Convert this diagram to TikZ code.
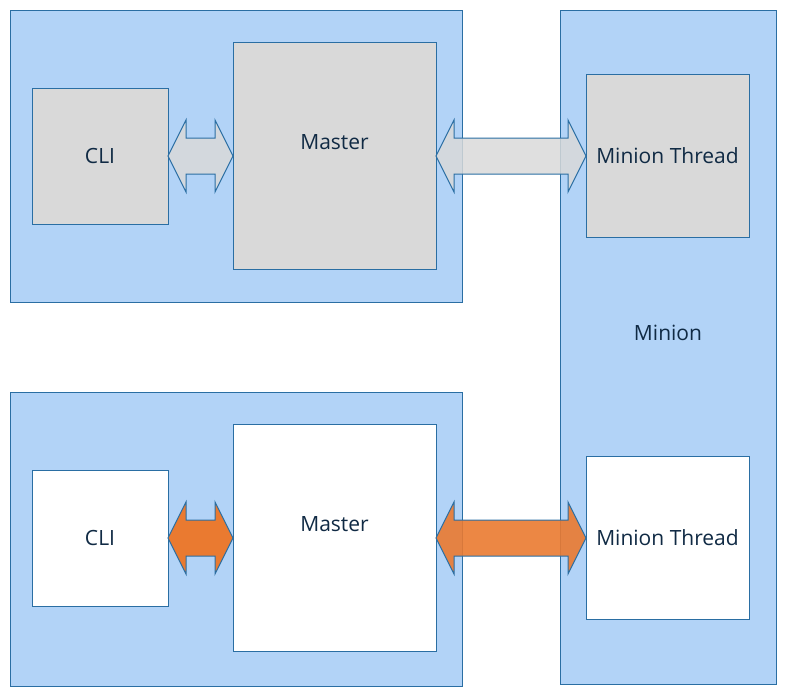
\documentclass[tikz,border=0pt]{standalone}
\usepackage{fontspec}
\setmainfont{Open Sans}
\usepackage{tikz}
\usetikzlibrary{positioning, calc}

\definecolor{grpblue}{RGB}{178,211,247}
\definecolor{edgeblue}{RGB}{42,110,163}
\definecolor{boxgrey}{RGB}{217,217,217}
\definecolor{textnavy}{RGB}{16,42,68}
\definecolor{arrorange}{RGB}{234,122,48}

% double block arrow between two tips on one level
\newcommand{\dblarrow}[3]{%
  \draw[#1] let \p1=(#2), \p2=(#3) in
    (\p1) -- (\x1+18pt,\y1+36pt) -- (\x1+18pt,\y1+18pt) -- (\x2-18pt,\y1+18pt)
    -- (\x2-18pt,\y1+36pt) -- (\x2,\y1) -- (\x2-18pt,\y1-36pt) -- (\x2-18pt,\y1-18pt)
    -- (\x1+18pt,\y1-18pt) -- (\x1+18pt,\y1-36pt) -- cycle;}

\begin{document}
\begin{tikzpicture}[
      x=1pt, y=-1pt,
      font=\fontsize{21}{25}\selectfont,
      text=textnavy,
      box/.style={
        rectangle,
        draw=edgeblue,
        line width=1pt,
        outer sep=0pt,
        inner sep=0pt,
      },
      greybox/.style={box, fill=boxgrey},
      whitebox/.style={box, fill=white},
      group/.style={box, fill=grpblue},
      greyarrow/.style={draw=edgeblue, line width=1pt, fill=boxgrey, fill opacity=0.85},
      orangearrow/.style={draw=edgeblue, line width=1pt, fill=arrorange, fill opacity=0.9},
    ]
      % declare background layer
      \pgfdeclarelayer{background}
      \pgfsetlayers{background,main}

      \useasboundingbox (0,0) rectangle (787,696);

      % upper row
      \node[greybox, minimum size=136] (cli1) at (100,156) {CLI};
      \node[greybox, minimum width=203, minimum height=227, right=65pt of cli1,
        label={[yshift=13.5pt]center:Master}] (master1) {};
      \node[greybox, minimum size=163, right=150pt of master1] (thread1) {Minion Thread};

      % lower row
      \node[whitebox, minimum size=136] (cli2) at (100,538) {CLI};
      \node[whitebox, minimum width=203, minimum height=227, right=65pt of cli2,
        label={[yshift=14pt]center:Master}] (master2) {};
      \node[whitebox, minimum size=163, right=150pt of master2] (thread2) {Minion Thread};

      % arrows between blocks
      \dblarrow{greyarrow}{cli1.east}{master1.west}
      \dblarrow{greyarrow}{master1.east}{thread1.west}
      \dblarrow{orangearrow, fill opacity=1}{cli2.east}{master2.west}
      \dblarrow{orangearrow}{master2.east}{thread2.west}

      % containers in background
      \begin{pgfonlayer}{background}
        \node[group, minimum width=452, minimum height=292] (upper) at (236,156) {};
        \node[group, minimum width=452, minimum height=294] (lower) at (236,539) {};
        \node[group, minimum width=216, minimum height=674,
          label={[yshift=14pt]center:Minion}] (minion) at (668,347) {};
      \end{pgfonlayer}
    \end{tikzpicture}
\end{document}
